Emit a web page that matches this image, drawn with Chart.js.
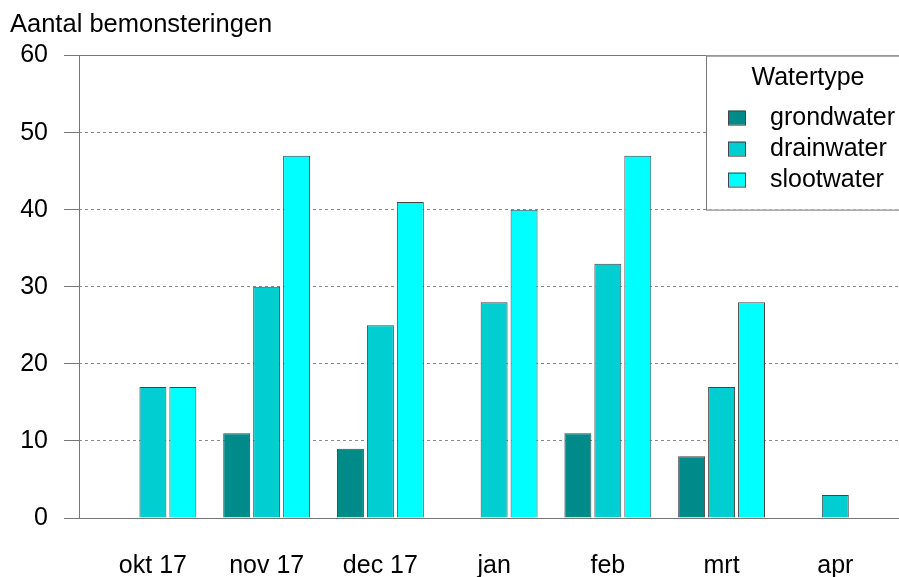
<!DOCTYPE html>
<html>
<head>
<meta charset="utf-8">
<script src="https://cdn.jsdelivr.net/npm/chart.js@4"></script>
<style>
  html, body { margin: 0; padding: 0; background: #fff; }
  canvas { display: block; }
</style>
</head>
<body>
<canvas id="chart" width="899" height="577"></canvas>
<script>
// data
const months = ['okt 17', 'nov 17', 'dec 17', 'jan', 'feb', 'mrt', 'apr'];
const grondwater = [null, 11, 9, null, 11, 8, null];
const drainwater = [17, 30, 25, 28, 33, 17, 3];
const slootwater = [17, 47, 41, 40, 47, 28, null];
const yTicks = [0, 10, 20, 30, 40, 50, 60];

const font = 'Liberation Sans, Arial, Helvetica, sans-serif';

const toPoints = (vals) => vals.map((v, i) => ({ x: i, y: v }));

// legend box drawn inside the plot, top right
const boxLegend = {
    id: 'boxLegend',
    afterDatasetsDraw(chart) {
        const { ctx, chartArea } = chart;
        const w = 193, h = 154;
        const left = chartArea.right - w;
        const top = chartArea.top;
        ctx.save();
        ctx.fillStyle = '#fff';
        ctx.fillRect(left, top, w + 2, h);
        ctx.strokeStyle = '#777';
        ctx.lineWidth = 1;
        ctx.strokeRect(left + 0.5, top + 0.5, w + 5, h);
        ctx.fillStyle = '#000';
        ctx.font = '25px ' + font;
        ctx.textBaseline = 'middle';
        ctx.textAlign = 'center';
        ctx.fillText('Watertype', left + 102, top + 23);
        ctx.textAlign = 'left';
        chart.data.datasets.forEach((ds, i) => {
            const cy = top + 62 + i * 31;
            ctx.fillStyle = ds.backgroundColor;
            ctx.fillRect(left + 22, cy - 7, 17, 14);
            ctx.strokeStyle = '#444';
            ctx.strokeRect(left + 22.5, cy - 6.5, 17, 14);
            ctx.fillStyle = '#000';
            ctx.fillText(ds.label, left + 64, cy + 1);
        });
        ctx.restore();
    }
};

new Chart(document.getElementById('chart'), {
    type: 'bar',
    data: {
        datasets: [
            { label: 'grondwater', data: toPoints(grondwater), backgroundColor: '#008B8B' },
            { label: 'drainwater', data: toPoints(drainwater), backgroundColor: '#00CED1' },
            { label: 'slootwater', data: toPoints(slootwater), backgroundColor: '#00FFFF' }
        ]
    },
    options: {
        responsive: false,
        animation: false,
        devicePixelRatio: 1,
        layout: { padding: { left: 10, right: 0, top: 0, bottom: 0 } },
        datasets: {
            bar: {
                borderColor: '#444',
                borderWidth: 1,
                categoryPercentage: 0.79,
                barPercentage: 0.9
            }
        },
        plugins: {
            legend: { display: false },
            tooltip: { enabled: false },
            title: {
                display: true,
                text: 'Aantal bemonsteringen',
                align: 'start',
                color: '#000',
                font: { family: font, size: 25.5, weight: 'normal' },
                padding: { top: 10, bottom: 15 }
            }
        },
        scales: {
            x: {
                type: 'linear',
                offset: false,
                min: -0.65,
                max: 6.56,
                afterFit: (s) => { s.height = 59; },
                grid: { display: false, drawTicks: false, offset: false },
                border: { display: false },
                ticks: {
                    stepSize: 1,
                    includeBounds: false,
                    autoSkip: false,
                    maxRotation: 0,
                    padding: 33,
                    color: '#000',
                    font: { family: font, size: 25 },
                    callback: (v) => months[v] !== undefined && Number.isInteger(v) ? months[v] : ''
                }
            },
            y: {
                min: 0,
                max: 60,
                afterBuildTicks: (s) => { s.ticks = yTicks.map(v => ({ value: v })); },
                afterFit: (s) => { s.width = 69; },
                grid: { drawOnChartArea: false, tickLength: 15, color: '#777' },
                border: { display: true, color: '#777' },
                ticks: {
                    padding: 16,
                    color: '#000',
                    font: { family: font, size: 25 }
                }
            },
            yDash: {
                position: 'right',
                min: 0,
                max: 60,
                afterBuildTicks: (s) => { s.ticks = yTicks.map(v => ({ value: v })); },
                afterFit: (s) => { s.width = 0; },
                ticks: { display: false },
                grid: {
                    drawTicks: false,
                    tickLength: 0,
                    color: (c) => (c.tick && (c.tick.value === 0 || c.tick.value === 60)) ? 'rgba(0,0,0,0)' : '#888'
                },
                border: { display: false, dash: [3, 3] }
            },
            yEdge: {
                position: 'right',
                min: 0,
                max: 60,
                afterBuildTicks: (s) => { s.ticks = [{ value: 0 }, { value: 60 }]; },
                afterFit: (s) => { s.width = 0; },
                ticks: { display: false },
                grid: { drawTicks: false, tickLength: 0, color: '#777' },
                border: { display: false }
            }
        }
    },
    plugins: [boxLegend]
});
</script>
</body>
</html>
